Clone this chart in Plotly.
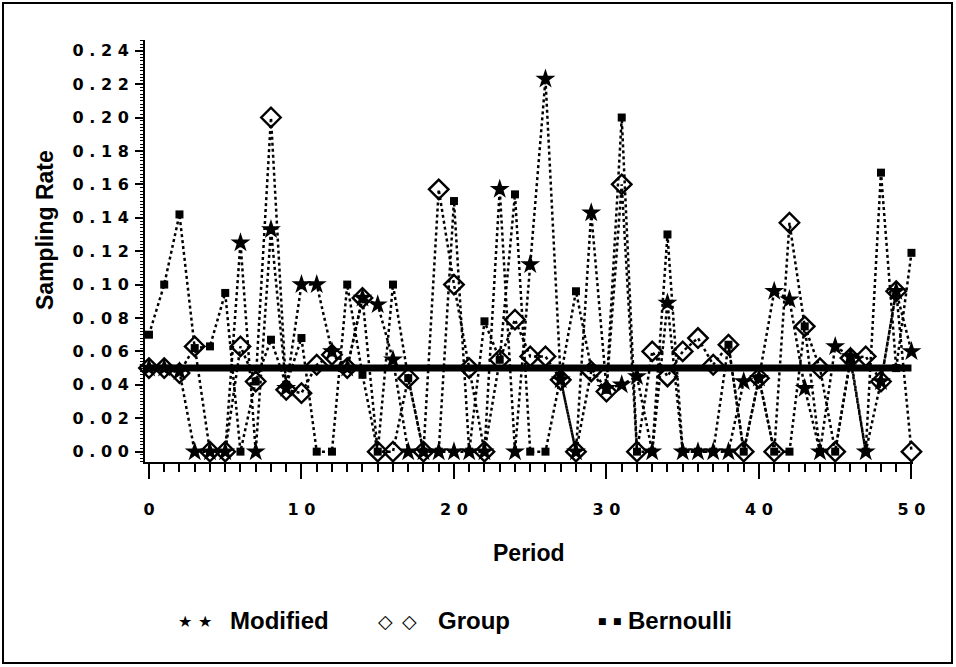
import plotly.graph_objects as go

# ---------------- data ----------------
period = list(range(51))

modified = [0.050, 0.050, 0.048, 0.000, 0.000, 0.000, 0.125, 0.000, 0.133, 0.038,
            0.100, 0.100, 0.060, 0.050, 0.092, 0.088, 0.055, 0.000, 0.000, 0.000,
            0.000, 0.000, 0.000, 0.157, 0.000, 0.112, 0.223, 0.043, 0.000, 0.143,
            0.038, 0.040, 0.045, 0.000, 0.089, 0.000, 0.000, 0.000, 0.000, 0.042,
            0.044, 0.096, 0.091, 0.038, 0.000, 0.063, 0.057, 0.000, 0.042, 0.096,
            0.060]

group = [0.050, 0.050, 0.047, 0.063, 0.000, 0.000, 0.063, 0.042, 0.200, 0.037,
         0.035, 0.052, 0.058, 0.050, 0.092, 0.000, 0.000, 0.044, 0.000, 0.157,
         0.100, 0.050, 0.000, 0.055, 0.079, 0.057, 0.057, 0.043, 0.000, 0.048,
         0.036, 0.160, 0.000, 0.060, 0.045, 0.060, 0.068, 0.052, 0.064, 0.000,
         0.044, 0.000, 0.137, 0.075, 0.050, 0.000, 0.056, 0.057, 0.042, 0.096,
         0.000]

bernoulli = [0.070, 0.100, 0.142, 0.062, 0.063, 0.095, 0.000, 0.042, 0.067, 0.040,
             0.068, 0.000, 0.000, 0.100, 0.046, 0.000, 0.100, 0.044, 0.000, 0.000,
             0.150, 0.000, 0.078, 0.055, 0.154, 0.000, 0.000, 0.045, 0.096, 0.050,
             0.037, 0.200, 0.000, 0.000, 0.130, 0.000, 0.000, 0.000, 0.064, 0.000,
             0.044, 0.000, 0.000, 0.075, 0.000, 0.000, 0.055, 0.000, 0.167, 0.050,
             0.119]

target_x = [0, 50]
target_rate = [0.05, 0.05]

y_tickvals = [0.00, 0.02, 0.04, 0.06, 0.08, 0.10, 0.12, 0.14, 0.16, 0.18, 0.20, 0.22, 0.24]
y_ticktext = ["0 . 0 0", "0 . 0 2", "0 . 0 4", "0 . 0 6", "0 . 0 8", "0 . 1 0", "0 . 1 2",
              "0 . 1 4", "0 . 1 6", "0 . 1 8", "0 . 2 0", "0 . 2 2", "0 . 2 4"]
x_tickvals = [0, 10, 20, 30, 40, 50]
x_ticktext = ["0", "1 0", "2 0", "3 0", "4 0", "5 0"]

# ---------------- layout geometry ----------------
W, H = 956, 667
L, R, T, B = 145, 913, 40, 462   # plot area in pixels


def px(xp):
    return (xp - L) / (R - L)


def py(yp):
    return (B - yp) / (B - T)


SANS = "Liberation Sans, Arial, sans-serif"
TICKF = "DejaVu Sans, sans-serif"
DOT = "3px,3px"

fig = go.Figure()

fig.add_trace(go.Scatter(
    x=period, y=bernoulli, mode="lines+markers", name="Bernoulli",
    line=dict(color="black", width=2.5, dash=DOT),
    marker=dict(symbol="square", size=8, color="black"),
    cliponaxis=False))

fig.add_trace(go.Scatter(
    x=period, y=group, mode="lines+markers", name="Group",
    line=dict(color="black", width=2.5, dash=DOT),
    marker=dict(symbol="diamond-open", size=15, color="black", line=dict(width=2.4)),
    cliponaxis=False))

fig.add_trace(go.Scatter(
    x=period, y=modified, mode="lines+markers", name="Modified",
    line=dict(color="black", width=2.5, dash=DOT),
    marker=dict(symbol="star", size=15, color="black"),
    cliponaxis=False))

fig.add_trace(go.Scatter(
    x=target_x, y=target_rate, mode="lines", name="Target",
    line=dict(color="black", width=7), cliponaxis=False))

fig.update_layout(
    width=W, height=H,
    margin=dict(l=L, r=W - R, t=T, b=H - B),
    paper_bgcolor="white", plot_bgcolor="white",
    showlegend=False,
    xaxis=dict(
        range=[-0.26, 50.1], showgrid=False, zeroline=False,
        showline=True, linecolor="black", linewidth=2,
        tickmode="array", tickvals=x_tickvals,
        ticktext=["<b>" + t + "</b>" for t in x_ticktext],
        ticks="outside", ticklen=15, tickwidth=2, tickcolor="black",
        minor=dict(dtick=1, tick0=0, ticks="outside", ticklen=8, tickwidth=2, tickcolor="black"),
        tickfont=dict(family=TICKF, size=16, color="black"),
        ticklabelstandoff=17,
    ),
    yaxis=dict(
        range=[-0.0062, 0.2464], showgrid=False, zeroline=False,
        showline=True, linecolor="black", linewidth=2,
        tickmode="array", tickvals=y_tickvals,
        ticktext=["<b>" + t + "</b>" for t in y_ticktext],
        ticks="outside", ticklen=8, tickwidth=2, tickcolor="black",
        minor=dict(dtick=0.002, tick0=0, ticks="outside", ticklen=3, tickwidth=1, tickcolor="black"),
        tickfont=dict(family=TICKF, size=16, color="black"),
        ticklabelstandoff=3,
    ),
)

# border around the whole figure
fig.add_shape(type="rect", xref="paper", yref="paper",
              x0=px(3), x1=px(952), y0=py(663), y1=py(3),
              line=dict(color="black", width=2), layer="above")

# axis titles
fig.add_annotation(text="<b>Period</b>", xref="paper", yref="paper",
                   x=px(529), y=py(553), xanchor="center", yanchor="middle", showarrow=False,
                   font=dict(family=SANS, size=23, color="black"))
fig.add_annotation(text="<b>Sampling Rate</b>", xref="paper", yref="paper",
                   x=px(45), y=py(230), xanchor="center", yanchor="middle", showarrow=False,
                   textangle=-90, font=dict(family=SANS, size=23, color="black"))

# legend drawn as text
legend_symbols = [("★", 185, 16), ("★", 205, 16),
                  ("◇", 385, 19), ("◇", 409, 19),
                  ("■", 602, 9), ("■", 617, 9)]
for sym, sx, size in legend_symbols:
    fig.add_annotation(text=sym, xref="paper", yref="paper", x=px(sx), y=py(621),
                       xanchor="center", yanchor="middle", showarrow=False,
                       font=dict(family="DejaVu Sans", size=size, color="black"))

legend_labels = [("Modified", 228), ("Group", 436), ("Bernoulli", 626)]
for label, lx in legend_labels:
    fig.add_annotation(text="<b>" + label + "</b>", xref="paper", yref="paper",
                       x=px(lx), y=py(620), xanchor="left", yanchor="middle", showarrow=False,
                       font=dict(family=SANS, size=24, color="black"))

fig.write_html("out.html")
